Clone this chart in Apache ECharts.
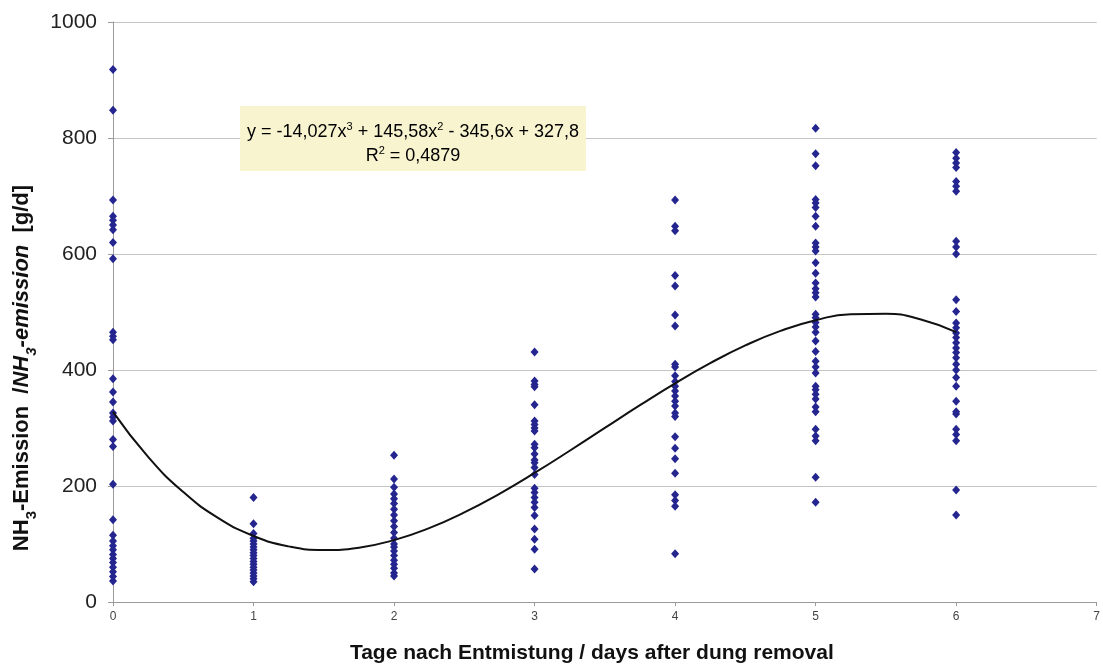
<!DOCTYPE html>
<html>
<head>
<meta charset="utf-8">
<script src="https://cdn.jsdelivr.net/npm/echarts@6/dist/echarts.min.js"></script>
<style>html,body{margin:0;padding:0;background:#fff}#c{width:1103px;height:669px}</style>
</head>
<body>
<div id="c"></div>
<script>
// Measured NH3 emission per day after dung removal
const day0 = [918, 848, 693, 665, 658, 650, 642, 620, 592, 465, 458, 452, 385, 362, 345, 326, 319, 312, 280, 268, 203, 142, 115, 105, 97, 90, 82, 75, 68, 60, 52, 44, 36];
const day1 = [180, 135, 118, 110, 105, 100, 95, 90, 85, 80, 75, 70, 65, 60, 55, 50, 45, 40, 35];
const day2 = [253, 212, 198, 186, 178, 170, 160, 150, 140, 130, 120, 110, 100, 95, 88, 80, 72, 65, 58, 50, 45];
const day3 = [431, 381, 375, 371, 340, 312, 306, 300, 295, 272, 266, 255, 245, 240, 232, 220, 196, 189, 180, 172, 163, 149, 126, 108, 91, 57];
const day4 = [693, 648, 640, 563, 545, 495, 476, 410, 405, 390, 380, 372, 364, 355, 346, 338, 326, 320, 285, 265, 247, 222, 185, 175, 165, 83];
const day5 = [817, 773, 752, 694, 688, 680, 665, 648, 619, 612, 605, 585, 567, 550, 540, 533, 526, 496, 490, 482, 474, 465, 450, 432, 415, 405, 395, 372, 366, 358, 350, 336, 328, 298, 286, 278, 215, 172];
const day6 = [775, 765, 757, 749, 725, 717, 708, 622, 612, 600, 521, 501, 481, 473, 464, 456, 447, 438, 430, 421, 410, 400, 387, 372, 346, 328, 324, 298, 289, 278, 193, 150];
const days = [0, 1, 2, 3, 4, 5, 6];
const groups = [day0, day1, day2, day3, day4, day5, day6];
// Polynomial trend line (x, y)
const trendX = [0, 0.25, 0.5, 0.75, 1, 1.25, 1.5, 1.75, 2, 2.25, 2.5, 2.75, 3, 3.25, 3.5, 3.75, 4, 4.25, 4.5, 4.75, 5, 5.25, 5.5, 5.75, 6];
const trendY = [327.8, 250.3, 189.6, 144.6, 113.8, 95.9, 89.6, 93.7, 106.7, 127.4, 154.5, 186.6, 222.5, 260.8, 300.1, 339.3, 377.0, 411.8, 442.4, 467.5, 485.9, 496.2, 497.1, 487.2, 465.3];
const yTicks = [0, 200, 400, 600, 800, 1000];
const xTicks = [0, 1, 2, 3, 4, 5, 6, 7];

const scatterData = [];
groups.forEach((g, i) => g.forEach(v => scatterData.push([days[i], v])));
const trendData = trendX.map((x, i) => [x, trendY[i]]);

const FONT = '"Liberation Sans", Arial, sans-serif';
const chart = echarts.init(document.getElementById('c'), null, {renderer: 'canvas'});
chart.setOption({
  animation: false,
  backgroundColor: '#ffffff',
  grid: {left: 113, right: 6, top: 22, bottom: 66},
  xAxis: {
    type: 'value', min: xTicks[0], max: xTicks[xTicks.length - 1], interval: 1,
    name: 'Tage nach Entmistung / days after dung removal',
    nameLocation: 'middle', nameGap: 41,
    nameTextStyle: {fontFamily: FONT, fontSize: 21, fontWeight: 'bold', color: '#111', padding: [0, 26, 0, 0]},
    axisLine: {lineStyle: {color: '#9a9a9a', width: 1}},
    axisTick: {show: true, length: 4, lineStyle: {color: '#9a9a9a'}},
    axisLabel: {fontFamily: FONT, fontSize: 12, color: '#444', margin: 9},
    splitLine: {show: false}
  },
  yAxis: {
    type: 'value', min: yTicks[0], max: yTicks[yTicks.length - 1], interval: 200,
    name: '{b|NH}{sb|3}{b|-Emission  /}{bi|NH}{sbi|3}{bi|-emission}{b|  [g/d]}',
    nameLocation: 'middle', nameGap: 77, nameRotate: 90,
    nameTextStyle: {
      fontFamily: FONT,
      padding: [0, 112, 0, 0],
      rich: {
        b: {fontFamily: FONT, fontSize: 22, fontWeight: 'bold', color: '#111', lineHeight: 28, verticalAlign: 'middle'},
        bi: {fontFamily: FONT, fontSize: 22, fontWeight: 'bold', fontStyle: 'italic', color: '#111', lineHeight: 28, verticalAlign: 'middle'},
        sb: {fontFamily: FONT, fontSize: 15, fontWeight: 'bold', color: '#111', lineHeight: 15, verticalAlign: 'bottom', padding: [0, 0, -3, 0]},
        sbi: {fontFamily: FONT, fontSize: 15, fontWeight: 'bold', fontStyle: 'italic', color: '#111', lineHeight: 15, verticalAlign: 'bottom', padding: [0, 0, -3, 0]}
      }
    },
    axisLine: {show: true, lineStyle: {color: '#9a9a9a', width: 1}},
    axisTick: {show: true, length: 5, lineStyle: {color: '#9a9a9a'}},
    axisLabel: {fontFamily: FONT, fontSize: 21, color: '#222', margin: 16, formatter: v => String(v)},
    splitLine: {show: true, lineStyle: {color: '#c4c4c4', width: 1}}
  },
  series: [
    {
      type: 'scatter', data: scatterData, symbol: 'diamond', symbolSize: [8, 9],
      itemStyle: {color: '#24258e', opacity: 1}, z: 3
    },
    {
      type: 'line', data: trendData, smooth: true, showSymbol: false,
      lineStyle: {color: '#111', width: 2}, z: 4
    }
  ],
  graphic: [
    {type: 'rect', z: 1, shape: {x: 240, y: 106, width: 346, height: 65}, style: {fill: '#f8f4cf'}},
    {
      type: 'text', z: 2, x: 413, y: 120,
      style: {
        text: '{n|y = -14,027x}{s|3}{n| + 145,58x}{s|2}{n| - 345,6x + 327,8}\n{n|R}{s|2}{n| = 0,4879}',
        align: 'center', verticalAlign: 'top',
        rich: {
          n: {fontFamily: FONT, fontSize: 18, color: '#111', lineHeight: 24, verticalAlign: 'middle'},
          s: {fontFamily: FONT, fontSize: 11, color: '#111', lineHeight: 24, verticalAlign: 'top', padding: [1, 0, 0, 0]}
        }
      }
    }
  ]
});
</script>
</body>
</html>
